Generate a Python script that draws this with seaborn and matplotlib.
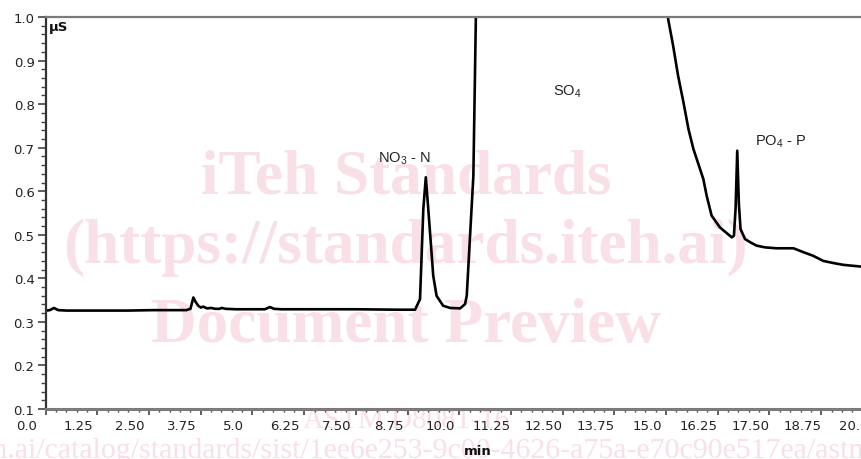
import matplotlib
matplotlib.use("Agg")
import matplotlib.pyplot as plt
import matplotlib.transforms as mtransforms
from matplotlib.ticker import MultipleLocator, FixedLocator
import seaborn as sns
import pandas as pd

# ---- data ----
time_min = [0.0, 0.1, 0.2, 0.3, 0.5, 1.0, 2.0, 2.6, 3.0, 3.4, 3.5, 3.57, 3.63, 3.69,
            3.75, 3.81, 3.9, 4.0, 4.1, 4.2, 4.26, 4.35, 4.6, 5.0, 5.3, 5.42, 5.52,
            5.7, 6.5, 7.5, 8.5, 8.93, 9.05, 9.13, 9.19, 9.25, 9.37, 9.45, 9.61,
            9.78, 10.02, 10.14, 10.18, 10.34, 10.40, 10.45, 10.6, 12.5, 14.9,
            15.05, 15.17, 15.29, 15.42, 15.54, 15.66, 15.82, 15.90, 15.98, 16.10,
            16.30, 16.45, 16.59, 16.64, 16.68, 16.72, 16.76, 16.80, 16.91, 17.05,
            17.19, 17.40, 17.67, 17.90, 18.08, 18.32, 18.55, 18.80, 19.05, 19.28,
            19.71, 20.2]
signal_uS = [0.326, 0.327, 0.332, 0.327, 0.326, 0.326, 0.326, 0.327, 0.327, 0.327,
             0.330, 0.356, 0.345, 0.337, 0.333, 0.335, 0.331, 0.332, 0.330, 0.330,
             0.332, 0.330, 0.329, 0.329, 0.329, 0.334, 0.330, 0.329, 0.329, 0.329,
             0.328, 0.328, 0.352, 0.559, 0.632, 0.559, 0.406, 0.360, 0.337,
             0.332, 0.331, 0.341, 0.360, 0.635, 0.995, 1.3, 3.0, 6.0, 1.4,
             0.995, 0.934, 0.865, 0.804, 0.743, 0.697, 0.651, 0.628, 0.590, 0.544,
             0.517, 0.505, 0.494, 0.498, 0.560, 0.693, 0.570, 0.513, 0.490, 0.482,
             0.475, 0.471, 0.469, 0.469, 0.469, 0.460, 0.452, 0.440, 0.435, 0.431,
             0.427, 0.424]

x_tick_values = [0.0, 1.25, 2.5, 3.75, 5.0, 6.25, 7.5, 8.75, 10.0, 11.25, 12.5,
                 13.75, 15.0, 16.25, 17.5, 18.75, 20.0]
x_tick_labels = ["0.0", "1.25", "2.50", "3.75", "5.0", "6.25", "7.50", "8.75",
                 "10.0", "11.25", "12.50", "13.75", "15.0", "16.25", "17.50",
                 "18.75", "20.0"]
y_tick_values = [0.1, 0.2, 0.3, 0.4, 0.5, 0.6, 0.7, 0.8, 0.9, 1.0]
y_tick_labels = ["0.1", "0.2", "0.3", "0.4", "0.5", "0.6", "0.7", "0.8", "0.9", "1.0"]

peak_names = ["NO$_3$ - N", "SO$_4$", "PO$_4$ - P"]
peak_label_x = [8.03, 12.27, 17.15]
peak_label_y = [0.676, 0.830, 0.715]

watermark_lines = ["iTeh Standards", "(https://standards.iteh.ai)", "Document Preview"]

# ---- styling ----
sns.set_style("white")
plt.rcParams["font.family"] = ["DejaVu Sans"]
plt.rcParams["mathtext.fontset"] = "custom"
plt.rcParams["mathtext.rm"] = "Liberation Sans"
plt.rcParams["mathtext.default"] = "rm"

W, H, DPI = 861, 460, 100
fig = plt.figure(figsize=(W / DPI, H / DPI), dpi=DPI)
fig.patch.set_facecolor("white")

x_left_px, x_bottom_px, y_top_px = 45.7, 410.0, 18.0
px_per_min = 41.36
xmax = 20.2
ax = fig.add_axes([x_left_px / W, (H - x_bottom_px) / H,
                   xmax * px_per_min / W, (x_bottom_px - y_top_px) / H])
ax.patch.set_alpha(0)
ax.set_zorder(1)

df = pd.DataFrame({"time": time_min, "signal": signal_uS})
sns.lineplot(data=df, x="time", y="signal", ax=ax, color="black", lw=1.9,
             estimator=None, sort=False, legend=False)

ax.set_xlim(0, xmax)
ax.set_ylim(0.1, 1.0)
ax.set_xlabel("")
ax.set_ylabel("")

ax.xaxis.set_major_locator(FixedLocator(x_tick_values))
ax.set_xticklabels(x_tick_labels)
ax.xaxis.set_minor_locator(MultipleLocator(0.25))
ax.yaxis.set_major_locator(FixedLocator(y_tick_values))
ax.set_yticklabels(y_tick_labels)
ax.yaxis.set_minor_locator(MultipleLocator(0.02))

ax.tick_params(axis="both", which="major", labelsize=9.5, colors="#333333",
               labelcolor="#222222", width=1.1)
ax.tick_params(axis="y", which="major", length=6, pad=2, left=True)
ax.tick_params(axis="y", which="minor", length=3.6, width=1.0, color="#444444", left=True)
ax.tick_params(axis="x", which="major", length=4.5, pad=2.5, bottom=True)
ax.tick_params(axis="x", which="minor", length=2.3, width=1.0, color="#444444", bottom=True)

offset = mtransforms.ScaledTranslation(-19 / DPI, 0, fig.dpi_scale_trans)
for lbl in ax.get_xticklabels():
    lbl.set_transform(lbl.get_transform() + offset)

ax.spines["right"].set_visible(False)
ax.spines["top"].set_color("#7a7a7a")
ax.spines["top"].set_linewidth(1.6)
ax.spines["left"].set_color("#333333")
ax.spines["left"].set_linewidth(1.6)
ax.spines["bottom"].set_color("#7a7a7a")
ax.spines["bottom"].set_linewidth(2.2)

ax.text(0.004, 0.992, "µS", transform=ax.transAxes, ha="left", va="top",
        fontsize=9.5, fontweight="bold", color="#111111")
fig.text(478 / W, (H - 452) / H, "min", ha="center", va="center",
         fontsize=9.5, fontweight="bold", color="#111111")

for name, px, py in zip(peak_names, peak_label_x, peak_label_y):
    ax.text(px, py, name, ha="left", va="center", fontsize=10.5,
            family="Liberation Sans", color="#222222")

# ---- watermark of the source document ----
wm_color = "#f9dfe6"
wm_y = [(H - 193) / H, (H - 263) / H, (H - 342) / H]
for line, yy in zip(watermark_lines, wm_y):
    fig.text(406 / W, yy, line, ha="center", va="baseline", fontsize=45.5,
             family="Liberation Serif", fontweight="bold", color=wm_color, zorder=-1)
fig.text(406 / W, (H - 428) / H, "ASTM D8081-16", ha="center", va="baseline",
         fontsize=21, family="Liberation Serif", color=wm_color, zorder=-1)
fig.text(-240 / W, (H - 458) / H,
         "https://standards.iteh.ai/catalog/standards/sist/1ee6e253-9c00-4626-a75a-e70c90e517ea/astm-d8081-16",
         ha="left", va="baseline", fontsize=21.5, family="Liberation Serif",
         color=wm_color, zorder=-1)

fig.savefig("out.png", dpi=DPI)
